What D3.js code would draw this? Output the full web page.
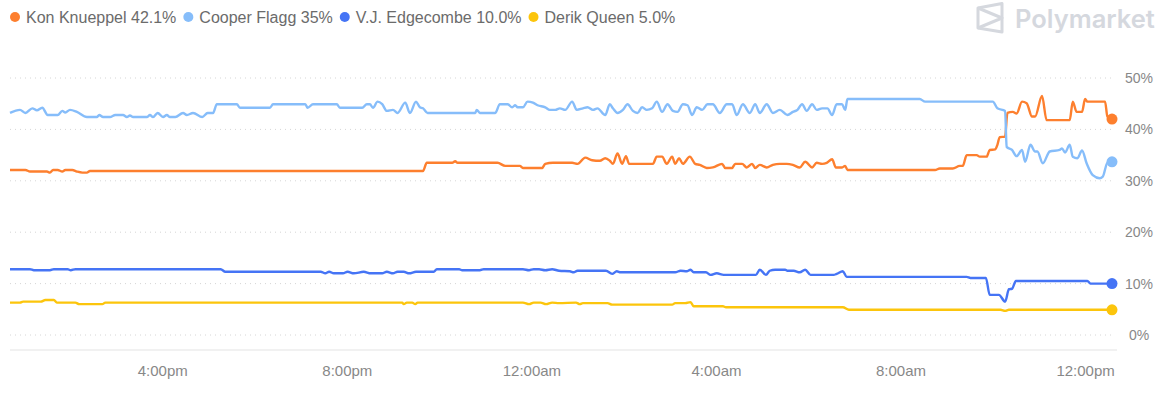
<!DOCTYPE html>
<html>
<head>
<meta charset="utf-8">
<script src="https://cdn.jsdelivr.net/npm/d3@7"></script>
<style>
  body { margin: 0; background: #fff; }
  svg { display: block; font-family: "Liberation Sans", Arial, sans-serif; }
</style>
</head>
<body>
<svg id="chart" width="1170" height="397"></svg>
<script>
// chart data
// each point: [minutes since start, percent]
var START = new Date(2025, 5, 24, 12, 42);
var SPAN_MIN = 1433;

var names = ["Kon Knueppel", "Cooper Flagg", "V.J. Edgecombe", "Derik Queen"];
var current = ["42.1%", "35%", "10.0%", "5.0%"];
var colors = ["#fd7f2e", "#86bdfa", "#4574f5", "#fcc50c"];
var yTicks = [0, 10, 20, 30, 40, 50];

var knueppel = [
  [0,32.1],[20,32.1],[26,31.8],[48,31.8],[52,31.6],[56,32.1],[62,32.1],[68,31.8],[72,32.1],[81,32.1],
  [87,31.8],[94,31.6],[100,31.6],[104,31.9],[537,31.9],[542,33.5],[575,33.5],[579,33.8],[582,33.5],
  [634,33.5],[644,32.9],[663,32.9],[667,32.5],[692,32.5],[696,33.3],[706,33.5],[731,33.5],[738,33.3],
  [748,34.5],[757,34.0],[767,33.9],[774,34.4],[780,33.9],[784,33.3],[790,35.3],[796,33.3],[801,34.8],
  [805,33.3],[836,33.3],[841,34.7],[848,34.7],[854,33.3],[861,34.7],[865,33.3],[870,34.4],[875,33.3],
  [884,34.7],[891,33.3],[897,33.1],[906,32.5],[914,32.6],[926,33.3],[930,32.5],[939,32.5],[943,33.3],
  [952,33.3],[958,32.6],[965,33.3],[969,32.5],[975,33.1],[984,32.6],[992,33.1],[1001,33.3],[1010,33.3],
  [1018,33.1],[1027,32.6],[1034,33.7],[1043,32.6],[1049,33.5],[1056,33.3],[1062,33.5],[1069,34.2],
  [1074,32.6],[1082,32.6],[1086,32.9],[1089,32.1],[1203,32.1],[1209,32.4],[1226,32.4],[1235,32.9],
  [1239,32.9],[1244,35.0],[1257,35.0],[1261,34.7],[1270,34.7],[1274,36.0],[1281,36.1],[1284,37.0],
  [1287,38.5],[1294,38.6],[1297,43.2],[1304,43.4],[1309,43.1],[1316,45.4],[1322,45.1],[1329,42.5],
  [1333,42.5],[1342,46.5],[1348,41.8],[1378,41.8],[1382,45.4],[1387,43.4],[1394,43.4],[1398,45.9],
  [1401,45.4],[1424,45.4],[1427,42.5],[1433,42.0]
];

var flagg = [
  [0,43.2],[13,43.8],[20,43.2],[29,44.1],[35,43.7],[42,44.2],[49,42.8],[62,42.8],[68,43.6],[72,43.3],
  [78,43.8],[87,43.4],[100,42.4],[113,42.4],[116,42.8],[121,42.4],[130,42.4],[137,42.8],[147,42.8],
  [152,42.4],[156,42.7],[160,42.4],[178,42.4],[182,42.8],[186,42.4],[192,43.2],[199,42.4],[204,42.8],
  [208,42.4],[215,42.4],[225,43.2],[230,42.8],[238,43.2],[250,42.4],[257,43.2],[264,43.2],[269,44.9],
  [295,44.9],[299,44.2],[338,44.2],[342,44.9],[384,44.9],[387,44.2],[394,44.9],[425,44.9],[429,44.2],
  [458,44.2],[464,44.9],[468,44.9],[472,44.2],[478,45.4],[484,44.9],[490,43.6],[498,43.8],[504,43.2],
  [514,45.2],[520,43.2],[528,45.4],[533,44.3],[537,44.1],[543,43.2],[605,43.2],[607,43.8],[611,43.2],
  [631,43.2],[637,44.9],[647,44.9],[653,44.3],[657,44.7],[660,44.3],[667,44.3],[673,45.4],[680,45.2],
  [686,44.7],[696,44.3],[702,43.8],[709,43.8],[715,44.1],[722,43.8],[731,45.4],[737,43.8],[745,44.1],
  [751,44.3],[758,43.8],[764,44.1],[774,42.8],[780,44.9],[784,44.1],[790,43.2],[797,43.8],[803,44.9],
  [810,43.6],[816,43.2],[822,44.3],[828,43.8],[835,44.1],[841,45.4],[848,43.4],[855,44.9],[862,43.6],
  [868,43.4],[875,44.9],[881,44.7],[887,42.8],[893,44.3],[900,43.8],[907,44.9],[914,44.9],[923,43.2],
  [932,44.9],[939,44.9],[945,42.8],[953,44.9],[962,43.2],[969,44.9],[975,43.2],[984,44.9],[992,43.2],
  [1001,43.8],[1011,42.8],[1018,43.4],[1024,43.8],[1030,44.9],[1036,43.6],[1043,44.9],[1049,43.8],
  [1056,44.1],[1063,44.1],[1069,42.8],[1075,44.9],[1082,44.9],[1086,43.8],[1089,45.9],[1183,45.9],
  [1190,45.4],[1278,45.4],[1284,44.1],[1294,43.6],[1296,36.6],[1303,36.0],[1309,34.8],[1316,36.0],
  [1320,33.7],[1327,37.0],[1333,35.7],[1336,35.7],[1343,33.4],[1352,35.7],[1365,36.0],[1368,36.3],
  [1372,35.5],[1378,37.0],[1382,34.7],[1388,34.4],[1394,35.9],[1400,33.4],[1408,31.1],[1417,30.5],
  [1421,30.8],[1427,33.5],[1433,33.7]
];

var edgecombe = [
  [0,12.8],[26,12.8],[31,12.6],[52,12.6],[57,12.8],[75,12.8],[79,12.6],[85,12.8],[274,12.8],[280,12.3],
  [404,12.3],[410,12.0],[415,12.3],[421,12.0],[433,12.0],[439,12.3],[447,12.0],[460,12.3],[469,12.0],
  [484,12.0],[490,12.3],[498,12.0],[504,12.3],[512,12.3],[519,12.0],[528,12.3],[551,12.3],[555,12.8],
  [584,12.8],[588,12.6],[611,12.6],[616,12.8],[667,12.8],[675,12.6],[681,12.8],[688,12.8],[696,12.6],
  [705,12.8],[714,12.5],[728,12.4],[733,12.2],[738,12.5],[775,12.5],[783,11.9],[789,12.4],[794,12.2],
  [865,12.2],[872,12.5],[880,12.4],[885,12.7],[889,12.2],[905,12.2],[911,11.7],[919,12.0],[928,11.7],
  [970,11.7],[975,12.7],[983,11.7],[988,12.5],[995,12.7],[1008,12.7],[1011,12.5],[1019,12.5],[1027,12.2],
  [1034,12.7],[1041,11.7],[1071,11.7],[1075,11.9],[1083,12.4],[1088,11.3],[1244,11.3],[1249,11.1],
  [1269,11.1],[1274,7.8],[1286,7.8],[1294,6.5],[1299,8.9],[1303,9.0],[1308,10.5],[1401,10.5],[1405,10.0],
  [1433,10.0]
];

var queen = [
  [0,6.3],[13,6.3],[17,6.5],[40,6.5],[46,6.8],[57,6.8],[61,6.3],[85,6.3],[90,6.0],[120,6.0],[124,6.3],
  [510,6.3],[512,6.0],[516,6.3],[523,6.3],[527,6.0],[530,6.3],[667,6.3],[675,6.0],[681,6.3],[690,6.3],
  [697,6.0],[705,6.3],[714,6.2],[736,6.3],[741,6.0],[745,6.2],[777,6.2],[783,5.9],[861,5.9],[865,6.2],
  [878,6.2],[885,6.4],[889,5.6],[927,5.6],[931,5.4],[1083,5.4],[1091,4.9],[1288,4.9],[1294,4.7],
  [1299,4.9],[1433,4.9]
];

var series = [knueppel, flagg, edgecombe, queen];

var svg = d3.select("#chart");
var end = d3.timeMinute.offset(START, SPAN_MIN);

var x = d3.scaleTime().domain([START, end]).range([10, 1112]);
var y = d3.scaleLinear().domain([0, 50]).range([335, 78]);

// dotted grid
svg.append("g").selectAll("line")
  .data(yTicks)
  .enter().append("line")
    .attr("x1", 10).attr("x2", 1112)
    .attr("y1", function(d){ return y(d); })
    .attr("y2", function(d){ return y(d); })
    .attr("stroke", "#d6d6d6")
    .attr("stroke-width", 1)
    .attr("stroke-dasharray", "1,4");

// base line
svg.append("line")
  .attr("x1", 10).attr("x2", 1117)
  .attr("y1", 350).attr("y2", 350)
  .attr("stroke", "#e3e3e3").attr("stroke-width", 1);

// y axis labels on the right
var yAxis = svg.append("g")
  .attr("transform", "translate(1139,0)")
  .call(d3.axisRight(y).tickValues(yTicks).tickSize(0).tickFormat(function(d){ return d + "%"; }));
yAxis.select(".domain").remove();
yAxis.selectAll("text")
  .attr("x", 0)
  .attr("text-anchor", "middle")
  .attr("fill", "#888")
  .style("font-size", "14px")
  .style("font-family", "'Liberation Sans', Arial, sans-serif");

// x axis
var fmt = d3.timeFormat("%-I:%M%p");
var xAxis = svg.append("g")
  .attr("transform", "translate(0,362)")
  .call(d3.axisBottom(x).ticks(d3.timeHour.every(4)).tickSize(0)
    .tickFormat(function(d){ return fmt(d).toLowerCase(); }));
xAxis.select(".domain").remove();
xAxis.selectAll("text")
  .attr("fill", "#888")
  .attr("dy", "0.71em")
  .style("font-size", "15px")
  .style("font-family", "'Liberation Sans', Arial, sans-serif");

// lines
var line = d3.line()
  .x(function(d){ return x(d3.timeMinute.offset(START, d[0])); })
  .y(function(d){ return y(d[1]); })
  .curve(d3.curveMonotoneX);

var lines = svg.append("g");
series.forEach(function(s, i){
  lines.append("path")
    .datum(s)
    .attr("fill", "none")
    .attr("stroke", colors[i])
    .attr("stroke-width", 2.4)
    .attr("stroke-linejoin", "round")
    .attr("d", line);
});

// end dots
series.forEach(function(s, i){
  var last = s[s.length - 1];
  lines.append("circle")
    .attr("cx", x(d3.timeMinute.offset(START, last[0])))
    .attr("cy", y(last[1]))
    .attr("r", 5.5)
    .attr("fill", colors[i]);
});

// legend
var legend = svg.append("g");
var lx = 15;
names.forEach(function(n, i){
  legend.append("circle")
    .attr("cx", lx).attr("cy", 17).attr("r", 5)
    .attr("fill", colors[i]);
  var t = legend.append("text")
    .attr("x", lx + 11).attr("y", 22.5)
    .attr("fill", "#6b6b6b")
    .style("font-size", "16px")
    .text(n + " " + current[i]);
  lx += 11 + t.node().getComputedTextLength() + 12;
});

// Polymarket mark
var logo = svg.append("g")
  .attr("fill", "none")
  .attr("stroke", "#d5d8de")
  .attr("stroke-width", 3)
  .attr("stroke-linejoin", "round");
logo.append("path").attr("d", "M978,8 L1002,3.5 L1002,32 L978,28 Z");
logo.append("path").attr("d", "M978,8 L1002,18 L978,28");
svg.append("text")
  .attr("x", 1015).attr("y", 28)
  .attr("fill", "#d5d8de")
  .style("font-family", "Inter, 'Open Sans', sans-serif")
  .style("font-weight", 600)
  .style("font-size", "25.5px")
  .text("Polymarket");
</script>
</body>
</html>
